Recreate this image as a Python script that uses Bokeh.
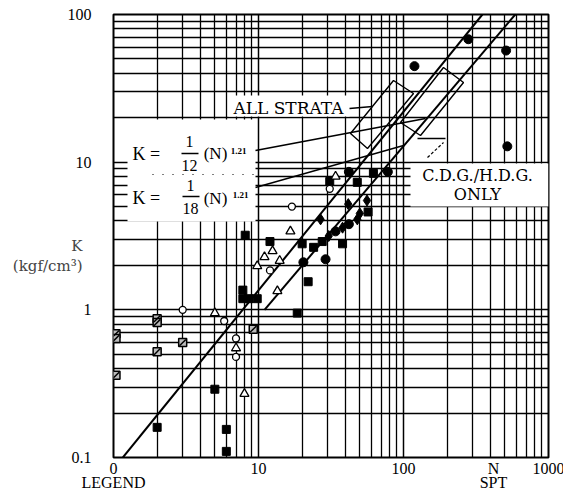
import math
from bokeh.plotting import figure
from bokeh.models import FixedTicker, Label, Range1d
from bokeh.embed import file_html
from bokeh.resources import INLINE

# ---------------- data ----------------
# K lines (end points)
line12_N = [1.16, 350]
line12_K = [0.1, 100]
line18_N = [11, 590]
line18_K = [1.0, 100]

# filled squares
sq_N = [2, 5, 6, 6, 7.8, 7.8, 8.6, 9.8, 8.1, 12, 18.5, 22, 24, 27.5, 20, 31, 48, 62, 38, 57]
sq_K = [0.16, 0.29, 0.155, 0.11, 1.36, 1.19, 1.19, 1.19, 3.2, 2.9, 0.95, 1.55, 2.65, 2.9, 2.8, 7.4, 7.3, 8.4, 2.8, 4.6]
# filled circles
ci_N = [42, 78, 280, 510, 119, 520, 34, 42, 29, 20.4]
ci_K = [8.6, 8.6, 68, 57, 44.7, 12.8, 3.4, 3.8, 2.2, 2.1]
# filled diamonds
di_N = [26.8, 41.6, 50, 48, 38, 30.5, 56]
di_K = [4.1, 5.2, 4.5, 4.1, 3.6, 3.16, 5.5]
# open circles
oc_N = [3, 5.8, 7, 7, 12, 17, 31]
oc_K = [1.0, 0.84, 0.64, 0.48, 1.85, 5.0, 6.6]
# open triangles
tr_N = [5, 7, 8, 13.5, 12.5, 11, 14, 9.8, 16.6, 34]
tr_K = [0.95, 0.55, 0.27, 1.34, 2.5, 2.28, 2.15, 1.98, 3.4, 8.0]
# hatched squares
hs_N = [1.04, 1.04, 1.04, 2, 2, 2, 3, 9.2]
hs_K = [0.69, 0.64, 0.36, 0.87, 0.82, 0.52, 0.6, 0.74]

x_ticks = [1, 10, 100, 1000]
x_tick_labels = ["0\nLEGEND", "10", "100", "1000"]
x_name_at = 417            # where "N / SPT" sits under the axis
x_name = "N\nSPT"
y_ticks = [0.1, 1, 10, 100]
y_tick_labels = ["0.1", "1", "10", "100"]
y_title = "\n\nK\n(kgf/cm\u00b3)"

# ---------------- figure ----------------
W, H = 563, 493
L, R, T, B = 113, 15, 14, 36
FW, FH = W - L - R, H - T - B

p = figure(width=W, height=H, x_axis_type="log", y_axis_type="log",
           x_range=Range1d(1, 1000), y_range=Range1d(0.1, 100),
           output_backend="svg", toolbar_location=None,
           min_border_left=L, min_border_right=R, min_border_top=T, min_border_bottom=B)
p.background_fill_color = "white"
p.border_fill_color = "white"
p.outline_line_color = "black"
p.outline_line_width = 2


def dx(px):
    return 10 ** (3.0 * (px - L) / FW)


def dy(py):
    return 10 ** (2 - 3.0 * (py - T) / FH)


xminor = [m * d for d in (1, 10, 100) for m in range(2, 10)]
yminor = [m * d for d in (0.1, 1, 10) for m in range(2, 10)]
p.xaxis.ticker = FixedTicker(ticks=x_ticks + [x_name_at], minor_ticks=xminor)
p.yaxis.ticker = FixedTicker(ticks=y_ticks, minor_ticks=yminor)
xo = dict(zip(x_ticks, x_tick_labels))
xo[x_name_at] = x_name
p.xaxis.major_label_overrides = xo
p.yaxis.major_label_overrides = dict(zip(y_ticks, y_tick_labels))
p.xgrid.ticker = FixedTicker(ticks=x_ticks, minor_ticks=xminor)
p.ygrid.ticker = FixedTicker(ticks=y_ticks, minor_ticks=yminor)

for ax in (p.xaxis[0], p.yaxis[0]):
    ax.axis_line_color = None
    ax.major_tick_line_color = None
    ax.minor_tick_line_color = None
    ax.major_tick_out = 0
    ax.minor_tick_out = 0
    ax.major_label_text_font = "Liberation Serif"
    ax.major_label_text_font_size = "16px"
    ax.major_label_text_color = "black"
p.yaxis.major_label_standoff = 22
p.xaxis.major_label_standoff = 2
p.xaxis.major_label_text_line_height = 0.85

p.yaxis.axis_label = y_title
p.yaxis.axis_label_orientation = "horizontal"
p.yaxis.axis_label_text_font = "DejaVu Serif"
p.yaxis.axis_label_text_font_size = "15px"
p.yaxis.axis_label_text_font_style = "normal"
p.yaxis.axis_label_text_line_height = 1.1
p.yaxis.axis_label_standoff = -18

for g in (p.xgrid[0], p.ygrid[0]):
    g.grid_line_color = "black"
    g.grid_line_width = 1.5
    g.minor_grid_line_color = "black"
    g.minor_grid_line_width = 1.3

# ---------------- white label boxes ----------------
p.quad(left=[dx(127)], right=[dx(255)], top=[dy(119)], bottom=[dy(221)],
       fill_color="white", line_color=None)
p.quad(left=[dx(228)], right=[dx(349)], top=[dy(95)], bottom=[dy(116)],
       fill_color="white", line_color=None)
p.quad(left=[dx(410)], right=[dx(548)], top=[dy(163)], bottom=[dy(206)],
       fill_color="white", line_color=None)

# dotted remnant between the equations
p.line([dx(152), dx(255)], [dy(174), dy(174)], line_color="black", line_width=1.2, line_dash="1 9")

# ---------------- fitted lines ----------------
p.line(line12_N, line12_K, line_color="black", line_width=2)
p.line(line18_N, line18_K, line_color="black", line_width=2)


# brackets / leaders
def pline(pts, **kw):
    p.line([dx(a) for a, b in pts], [dy(b) for a, b in pts], line_color="black", **kw)


pline([(393, 80), (413, 93), (367, 148), (350, 133), (393, 80)], line_width=1.4)
pline([(443, 67), (463, 82), (420, 135), (400, 122), (443, 67)], line_width=1.4)
pline([(255, 150), (425, 118)], line_width=1.6)
pline([(255, 187), (403, 145)], line_width=1.4)
pline([(349, 108), (372, 106)], line_width=1.6)
pline([(445, 138), (417, 138)], line_width=1.6)
pline([(427, 157), (443, 142)], line_width=1.2, line_dash="3 2")

# ---------------- data markers ----------------
p.scatter(sq_N, sq_K, marker="square", size=8, fill_color="black", line_color="black")
p.scatter(ci_N, ci_K, marker="circle", size=9, fill_color="black", line_color="black")
p.scatter(di_N, di_K, marker="diamond", size=11, fill_color="black", line_color="black")
p.scatter(oc_N, oc_K, marker="circle", size=7, fill_color="white", line_color="black", line_width=1.3)
p.scatter(tr_N, tr_K, marker="triangle", size=9, fill_color="white", line_color="black", line_width=1.3)
p.scatter(hs_N, hs_K, marker="square", size=8, fill_color="#bbbbbb", line_color="black", line_width=1.5)
p.scatter(hs_N, hs_K, marker="dash", size=9, angle=math.pi / 4, line_color="black", line_width=1.5)

# ---------------- texts ----------------
SERIF = "Liberation Serif"
WIDE = "DejaVu Serif"


def lab(text, px, py, size, align="center", baseline="middle", style="normal", font=SERIF):
    p.add_layout(Label(x=dx(px), y=dy(py), text=text, text_font=font,
                       text_font_size=f"{size}px", text_align=align,
                       text_baseline=baseline, text_font_style=style, text_color="black"))


# equation 1
lab("K  =", 148, 153, 18)
lab("1", 189, 141, 16)
pline([(181, 153), (198, 153)], line_width=1.4)
lab("12", 189, 165, 16)
lab("(N)", 215, 153, 17)
lab("1.21", 238, 150, 9, style="bold")
# equation 2
lab("K  =", 148, 197, 18)
lab("1", 190, 185, 16)
pline([(182, 196), (199, 196)], line_width=1.4)
lab("18", 190, 208, 16)
lab("(N)", 215, 198, 17)
lab("1.21", 240, 194, 9, style="bold")

lab("ALL STRATA", 288, 107, 17, font=WIDE)
lab("C.D.G./H.D.G.", 477, 175, 16, font=WIDE)
lab("ONLY", 477, 194, 16, font=WIDE)

open("out.html", "w").write(file_html(p, INLINE))
